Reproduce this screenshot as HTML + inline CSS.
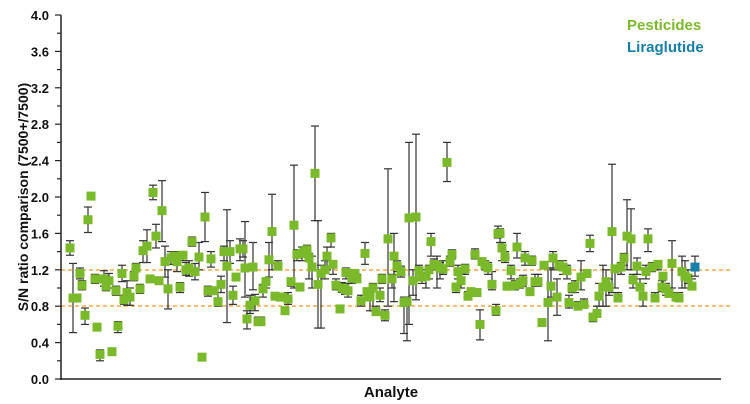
<!DOCTYPE html>
<html><head><meta charset="utf-8"><style>
body{margin:0;background:#fff;}
svg{display:block;font-family:"Liberation Sans",Arial,sans-serif;}
</style></head><body>
<svg id="s" width="750" height="404" viewBox="0 0 750 404" xmlns="http://www.w3.org/2000/svg">
<rect width="750" height="404" fill="#fff"/>
<g id="grid"></g>
<line x1="61" y1="270" x2="730" y2="270" stroke="#f7941d" stroke-width="1.3" stroke-dasharray="4,3"/>
<line x1="61" y1="306" x2="730" y2="306" stroke="#f7941d" stroke-width="1.3" stroke-dasharray="4,3"/>
<g id="data"></g>
<line x1="61" y1="15" x2="61" y2="380" stroke="#222" stroke-width="1.5"/>
<line x1="60" y1="379" x2="721" y2="379" stroke="#222" stroke-width="1.5"/>
<g id="ticks"></g>
<text x="0" y="0" transform="translate(28,197) rotate(-90)" text-anchor="middle" font-size="14" font-weight="bold" fill="#111">S/N ratio comparison (7500+/7500)</text>
<text x="391" y="397" text-anchor="middle" font-size="15" font-weight="bold" fill="#111">Analyte</text>
<text x="627" y="30" font-size="15" font-weight="bold" fill="#7ab929">Pesticides</text>
<text x="627" y="52" font-size="15" font-weight="bold" fill="#177fa8">Liraglutide</text>
</svg>
<script>
var NS="http://www.w3.org/2000/svg";
function el(p,t,a){var e=document.createElementNS(NS,t);for(var k in a)e.setAttribute(k,a[k]);p.appendChild(e);return e;}
var Y=function(v){return 379-v*91;};
var tk=document.getElementById("ticks");
for(var i=0;i<=20;i++){var v=i*0.2,y=Y(v);var maj=i%2==0;
el(tk,"line",{x1:maj?55:57,y1:y,x2:61,y2:y,stroke:"#222","stroke-width":1.2});
if(maj){var t=el(tk,"text",{x:49,y:y+5,"text-anchor":"end","font-size":13,"font-weight":"bold",fill:"#111"});t.textContent=v.toFixed(1);}}
// [x, value, hi, lo]
var d=[[70,1.44,1.52,1.36],[73,0.89,1.27,0.51],[77,0.89,0.9,0.88],[80,1.16,1.22,1.1],[82,1.03],[85,0.70,0.78,0.6],[88,1.75,1.89,1.61],[91,2.01,2.03,1.99],[95,1.10],[97,0.57,0.58,0.56],[100,0.27,0.32,0.2],[104,1.10,1.19,1.02],[106,1.02],[109,1.08,1.16,1.0],[112,0.30,0.32,0.28],[116,0.97],[118,0.58,0.63,0.51],[122,1.16,1.25,1.07],[124,0.87],[127,0.95,1.08,0.81],[130,0.90,1.0,0.81],[134,1.13],[136,1.22,1.27,1.2],[140,0.99],[143,1.41,1.52,1.28],[147,1.46,1.64,1.28],[150,1.10,1.12,1.09],[153,2.05,2.13,1.97],[156,1.57,1.7,1.44],[159,1.08,1.1,1.06],[162,1.85,2.18,1.51],[165,1.29,1.46,1.12],[168,0.99,1.2,0.77],[171,1.33,1.4,1.26],[174,1.35,1.4,1.29],[177,1.29,1.4,1.18],[180,1.01,1.06,0.95],[183,1.36,1.4,1.3],[186,1.20,1.28,1.14],[189,1.22,1.3,1.13],[192,1.51,1.56,1.46],[195,1.18,1.27,1.09],[199,1.34,1.5,1.2],[202,0.24,0.26,0.22],[205,1.78,2.05,1.51],[208,0.97,1.02,0.91],[211,1.32,1.4,1.23],[214,0.97,1.0,0.94],[218,0.85,1.0,0.8],[221,1.04,1.13,0.95],[224,1.40,1.46,1.3],[227,1.24,1.86,0.62],[230,1.40,1.52,1.27],[233,0.92,1.02,0.82],[236,1.12,1.14,1.1],[240,1.43,1.54,1.3],[243,1.43,1.52,1.34],[245,1.22,1.73,0.9],[247,0.66,0.75,0.55],[250,0.81,0.92,0.72],[253,1.23,1.5,0.98],[255,0.86,0.93,0.75],[258,0.63,0.68,0.59],[261,0.63,0.68,0.59],[263,0.99,1.04,0.9],[266,1.07,1.11,1.0],[269,1.31,1.5,1.12],[272,1.62,2.03,1.2],[275,0.91,0.95,0.88],[278,1.24,1.3,1.2],[280,0.90,0.93,0.88],[283,0.90,0.93,0.88],[285,0.75,0.79,0.71],[288,0.88,0.95,0.82],[291,1.07,1.1,1.02],[294,1.69,2.35,1.0],[297,1.37,1.42,1.3],[300,1.01,1.05,0.97],[302,1.38,1.45,1.3],[304,1.40,1.45,1.34],[307,1.42,1.47,1.4],[309,1.33,1.38,1.1],[312,1.23,1.35,1.0],[315,2.26,2.78,1.74],[318,1.04,1.74,0.56],[321,1.16,1.25,0.56],[325,1.20,1.3,1.1],[327,1.35,1.45,1.2],[331,1.55,1.6,1.45],[333,1.26,1.3,1.15],[336,1.03,1.1,0.98],[340,0.77,0.8,0.73],[342,1.00,1.06,0.95],[345,0.99,1.05,0.93],[346,1.17,1.22,1.1],[348,0.97,1.05,0.9],[352,1.11,1.15,1.05],[355,1.16,1.2,1.1],[357,1.10,1.15,1.07],[361,0.86,0.92,0.8],[365,1.38,1.5,1.26],[367,0.96,1.0,0.9],[370,0.90,0.95,0.75],[373,1.00,1.05,0.75],[376,0.74,0.8,0.7],[380,0.92,1.0,0.85],[382,1.10,1.15,1.05],[385,0.70,0.76,0.64],[388,1.54,2.31,0.8],[392,1.10,1.15,1.0],[394,1.35,1.6,0.85],[397,1.24,1.3,1.18],[401,1.18,1.24,1.12],[404,0.84,0.9,0.5],[407,0.85,0.9,0.42],[409,1.77,2.6,0.6],[413,1.08,1.2,0.92],[416,1.78,2.69,0.87],[419,1.19,1.25,1.1],[422,1.12,1.2,1.05],[426,1.13,1.2,1.0],[429,1.20,1.25,1.1],[431,1.51,1.6,1.35],[434,1.26,1.32,1.2],[437,1.25,1.35,1.0],[440,1.22,1.28,1.1],[443,1.21,1.3,1.15],[447,2.38,2.6,2.17],[450,1.29,1.35,1.24],[452,1.37,1.42,1.32],[456,1.01,1.05,0.95],[458,1.18,1.25,1.1],[461,1.08,1.15,1.0],[465,1.21,1.26,1.15],[468,0.91,0.96,0.88],[471,0.96,1.0,0.92],[475,1.37,1.43,1.32],[477,0.95,0.98,0.92],[480,0.60,0.76,0.43],[482,1.29,1.32,1.25],[485,1.25,1.3,1.2],[488,1.22,1.28,1.15],[492,1.04,1.18,0.98],[496,0.75,0.82,0.7],[498,1.60,1.68,1.55],[500,1.60,1.65,1.5],[502,1.44,1.5,1.3],[505,1.34,1.4,1.28],[507,1.02,1.05,0.99],[510,1.02,1.05,0.99],[511,1.19,1.25,1.1],[515,1.03,1.08,0.98],[517,1.45,1.6,1.33],[520,1.05,1.1,1.0],[523,1.08,1.14,1.02],[525,1.33,1.4,1.25],[530,0.96,1.0,0.92],[532,1.30,1.35,1.25],[535,1.07,1.15,1.02],[538,1.07,1.15,1.02],[542,0.62,0.66,0.58],[544,1.25,1.27,1.23],[548,0.84,1.22,0.42],[551,1.02,1.22,0.9],[553,1.33,1.4,1.2],[557,0.90,1.1,0.7],[559,1.25,1.3,1.2],[563,1.23,1.3,1.15],[567,1.19,1.25,1.1],[569,0.84,0.92,0.78],[572,1.00,1.05,0.95],[575,1.02,1.08,0.95],[578,0.80,0.85,0.76],[581,1.12,1.3,0.98],[584,0.82,0.88,0.78],[587,1.16,1.2,1.12],[590,1.49,1.58,1.4],[593,0.68,0.72,0.63],[597,0.72,0.8,0.68],[599,0.91,1.05,0.8],[603,1.01,1.25,0.8],[606,1.07,1.2,0.8],[609,1.01,1.1,0.92],[612,1.62,2.36,0.95],[615,1.21,1.25,1.0],[618,0.89,0.95,0.85],[621,1.23,1.28,1.15],[624,1.33,1.38,1.25],[627,1.57,1.97,1.2],[631,1.54,1.87,1.2],[633,1.09,1.15,1.0],[637,1.24,1.33,1.15],[640,1.01,1.1,0.97],[643,0.91,1.05,0.8],[646,1.18,1.25,1.1],[648,1.54,1.65,1.4],[652,1.23,1.28,1.18],[655,0.89,0.95,0.85],[658,1.26,1.3,1.2],[662,1.01,1.08,0.96],[663,1.13,1.1,1.0],[666,0.99,1.05,0.92],[669,0.94,1.0,0.9],[672,1.27,1.52,1.0],[676,0.90,0.95,0.87],[679,0.89,0.95,0.86],[682,1.18,1.35,1.0],[685,1.13,1.3,1.0],[688,1.11,1.2,1.05],[692,1.02,1.1,1.0]];
var g=document.getElementById("data");
function bar(x,hi,lo){el(g,"line",{x1:x,y1:Y(hi),x2:x,y2:Y(lo),stroke:"#333","stroke-width":1.2});
el(g,"line",{x1:x-4,y1:Y(hi),x2:x+4,y2:Y(hi),stroke:"#333","stroke-width":1.2});
el(g,"line",{x1:x-4,y1:Y(lo),x2:x+4,y2:Y(lo),stroke:"#333","stroke-width":1.2});}
d.forEach(function(p){var hi=p[2]!==undefined?p[2]:p[1]+0.05,lo=p[3]!==undefined?p[3]:p[1]-0.05;bar(p[0],hi,lo);});
d.forEach(function(p){el(g,"rect",{x:p[0]-4.5,y:Y(p[1])-4.5,width:9,height:9,fill:"#7ab929"});});
bar(695,1.35,1.13);
el(g,"rect",{x:690.5,y:Y(1.23)-4.5,width:9,height:9,fill:"#177fa8"});
</script>
</body></html>
